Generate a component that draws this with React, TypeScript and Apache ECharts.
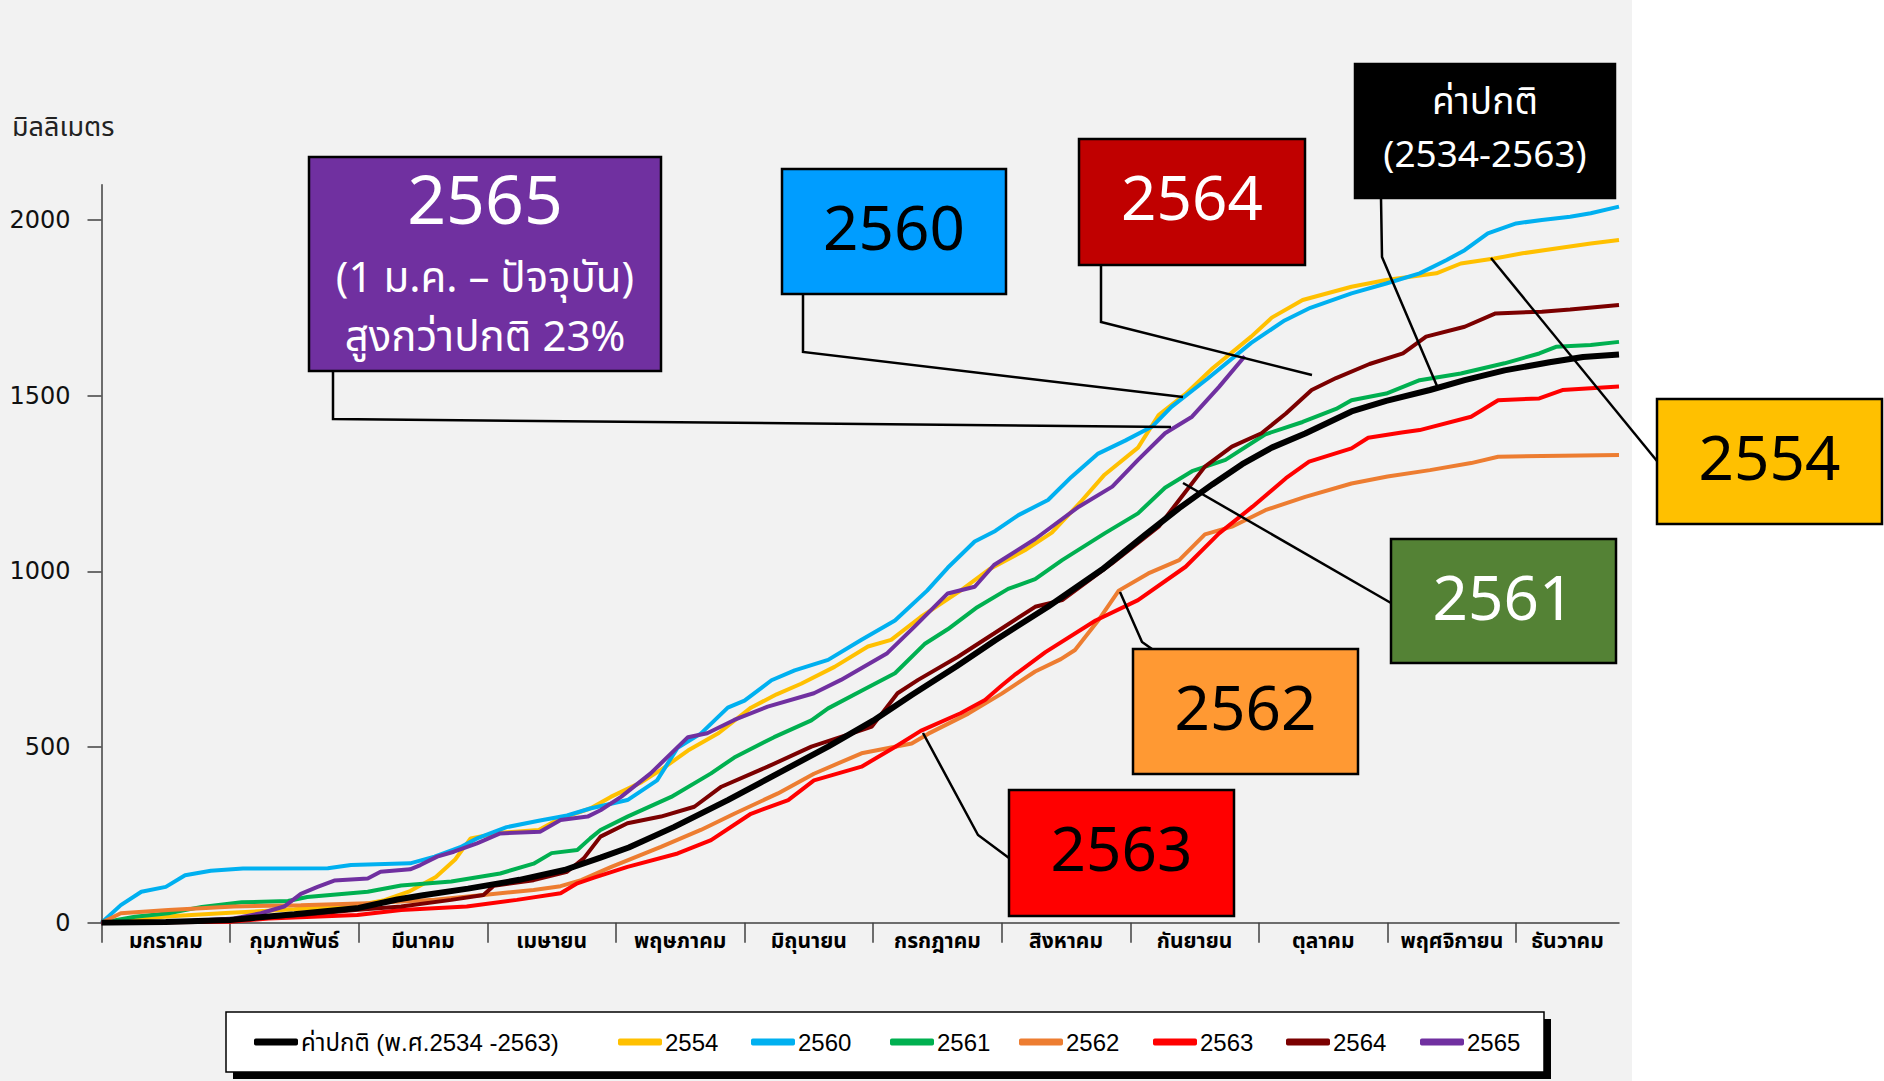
import React, { useEffect, useRef } from 'react';
import * as echarts from 'echarts';

// ---- axis content ----
const months = ['มกราคม', 'กุมภาพันธ์', 'มีนาคม', 'เมษายน', 'พฤษภาคม', 'มิถุนายน', 'กรกฎาคม', 'สิงหาคม', 'กันยายน', 'ตุลาคม', 'พฤศจิกายน', 'ธันวาคม'];
const yTicks = [0, 500, 1000, 1500, 2000];
const xEnd = 11.8; // data run ends in late December (month units)
const yMax = 2100;
const yUnit = 'มิลลิเมตร';

// ---- series values: [position in months from 1 Jan, cumulative rainfall mm] ----
const normal: [number, number][] = [[0,0],[0.5,2],[1,8],[1.5,24],[2,42],[2.3,66],[2.5,78],[2.85,97],[3.25,122],[3.6,150],[3.88,185],[4.1,214],[4.45,272],[4.87,349],[5.26,425],[5.65,501],[6.0,575],[6.3,648],[6.65,730],[6.95,804],[7.36,899],[7.78,1005],[8.12,1105],[8.38,1180],[8.64,1248],[8.87,1305],[9.1,1352],[9.36,1392],[9.72,1455],[9.99,1485],[10.33,1516],[10.6,1544],[10.91,1572],[11.26,1595],[11.52,1610],[11.8,1617]];
const y2554: [number, number][] = [[0,0],[0.3,12],[0.6,20],[1,28],[1.5,38],[2,50],[2.2,64],[2.4,90],[2.6,130],[2.75,180],[2.87,240],[3.1,256],[3.4,264],[3.55,294],[3.8,325],[3.96,358],[4.2,400],[4.35,435],[4.56,490],[4.8,540],[5.05,612],[5.25,650],[5.44,680],[5.7,728],[5.96,786],[6.14,805],[6.37,870],[6.68,945],[6.9,1005],[7.18,1060],[7.39,1110],[7.62,1200],[7.8,1275],[8.06,1352],[8.22,1445],[8.43,1505],[8.64,1578],[8.94,1668],[9.1,1722],[9.34,1772],[9.72,1810],[9.99,1829],[10.38,1848],[10.57,1876],[10.83,1890],[11.05,1905],[11.31,1919],[11.58,1933],[11.8,1943]];
const y2560: [number, number][] = [[0,0],[0.15,50],[0.31,88],[0.5,102],[0.65,135],[0.85,148],[1.1,154],[1.76,155],[1.94,164],[2.4,169],[2.59,188],[2.79,215],[2.92,240],[3.15,272],[3.41,291],[3.62,305],[3.8,325],[4.09,349],[4.32,405],[4.48,498],[4.66,538],[4.87,612],[5.0,632],[5.21,690],[5.39,718],[5.65,748],[5.91,805],[6.17,860],[6.42,945],[6.58,1010],[6.79,1085],[6.95,1115],[7.13,1160],[7.36,1203],[7.54,1268],[7.75,1335],[7.96,1372],[8.17,1412],[8.32,1468],[8.6,1548],[8.94,1650],[9.2,1714],[9.4,1750],[9.72,1791],[9.99,1819],[10.25,1848],[10.46,1886],[10.6,1914],[10.78,1962],[11.0,1990],[11.2,2000],[11.42,2009],[11.58,2019],[11.8,2038]];
const y2561: [number, number][] = [[0,0],[0.26,17],[0.52,27],[0.78,45],[1.09,58],[1.45,62],[1.6,73],[2.07,88],[2.33,106],[2.72,117],[3.1,140],[3.36,168],[3.5,198],[3.7,207],[3.8,240],[3.88,264],[4.09,302],[4.43,358],[4.74,425],[4.92,470],[5.23,528],[5.52,576],[5.65,610],[5.91,660],[6.17,710],[6.4,793],[6.58,835],[6.81,898],[7.05,950],[7.26,978],[7.47,1032],[7.8,1108],[8.06,1165],[8.27,1238],[8.48,1285],[8.74,1317],[9.05,1390],[9.34,1425],[9.6,1462],[9.72,1487],[9.99,1506],[10.25,1544],[10.57,1563],[10.91,1592],[11.18,1620],[11.31,1639],[11.58,1644],[11.8,1653]];
const y2562: [number, number][] = [[0,0],[0.15,27],[0.52,36],[1.03,46],[1.55,50],[2.07,55],[2.59,65],[2.97,79],[3.36,93],[3.57,104],[3.73,121],[3.96,158],[4.35,216],[4.66,264],[4.92,310],[5.26,368],[5.54,424],[5.91,482],[6.3,510],[6.43,538],[6.74,595],[7.0,652],[7.26,715],[7.46,750],[7.57,776],[7.75,860],[7.91,945],[8.14,994],[8.38,1032],[8.58,1105],[8.79,1127],[9.05,1174],[9.36,1212],[9.72,1250],[10.0,1270],[10.33,1288],[10.65,1308],[10.86,1326],[11.2,1328],[11.8,1331]];
const y2563: [number, number][] = [[0,0],[1.0,3],[1.3,12],[1.99,22],[2.33,36],[2.84,46],[3.23,65],[3.57,84],[3.7,112],[3.83,128],[4.09,159],[4.48,197],[4.74,235],[5.05,310],[5.34,349],[5.54,405],[5.91,444],[6.17,500],[6.37,546],[6.68,596],[6.87,634],[7.0,675],[7.1,705],[7.34,770],[7.73,860],[8.06,918],[8.43,1013],[8.69,1108],[8.95,1184],[9.21,1265],[9.39,1312],[9.72,1350],[9.85,1380],[10.11,1395],[10.25,1402],[10.65,1440],[10.86,1487],[11.18,1492],[11.36,1516],[11.8,1526]];
const y2564: [number, number][] = [[0,0],[0.78,3],[1.16,12],[1.55,22],[1.97,36],[2.33,46],[2.72,65],[2.97,79],[3.05,105],[3.36,121],[3.62,145],[3.75,183],[3.88,245],[4.09,283],[4.35,302],[4.61,330],[4.82,387],[5.18,444],[5.52,501],[5.91,548],[5.99,558],[6.19,653],[6.35,691],[6.66,757],[6.94,823],[7.26,899],[7.47,918],[7.86,1023],[8.22,1127],[8.38,1203],[8.58,1298],[8.79,1355],[9.02,1393],[9.21,1449],[9.41,1516],[9.6,1550],[9.86,1590],[10.12,1620],[10.3,1668],[10.6,1696],[10.84,1734],[11.2,1739],[11.42,1745],[11.8,1758]];
const y2565: [number, number][] = [[0,0],[0.6,3],[1.03,12],[1.24,27],[1.42,46],[1.55,82],[1.68,102],[1.81,120],[2.07,126],[2.17,145],[2.4,152],[2.48,164],[2.61,188],[2.74,202],[2.92,226],[3.1,254],[3.41,259],[3.57,292],[3.78,302],[3.88,320],[4.04,358],[4.27,425],[4.56,528],[4.71,539],[4.92,577],[5.18,615],[5.54,653],[5.75,691],[6.11,767],[6.32,842],[6.58,937],[6.79,956],[6.94,1018],[7.26,1092],[7.6,1184],[7.86,1241],[8.06,1317],[8.27,1393],[8.48,1440],[8.69,1525],[8.89,1612]];

const seriesNames = ['ค่าปกติ (พ.ศ.2534 -2563)', '2554', '2560', '2561', '2562', '2563', '2564', '2565'];
const seriesData = [normal, y2554, y2560, y2561, y2562, y2563, y2564, y2565];
const seriesColors = ['#000000', '#ffc000', '#00b0f0', '#00b050', '#ed7d31', '#ff0000', '#7b0000', '#7030a0'];

// ---- layout (pixels) ----
const legendLeft = [254, 618, 751, 890, 1019, 1153, 1286, 1420];
const THAI = "'Noto Sans Thai', 'Noto Sans Thai UI', 'Noto Sans', 'DejaVu Sans', sans-serif";

type Box = { x: number; y: number; w: number; h: number; fill: string; color: string; lines: { t: string; dy: number; size: number }[]; conn: number[][] };
const boxes: Box[] = [
  { x: 309, y: 157, w: 352, h: 214, fill: '#7030a0', color: '#ffffff', lines: [{ t: '2565', dy: 46, size: 68 }, { t: '(1 ม.ค. – ปัจจุบัน)', dy: 122, size: 42 }, { t: 'สูงกว่าปกติ 23%', dy: 181, size: 42 }], conn: [[333, 371], [333, 419], [1171, 427]] },
  { x: 782, y: 169, w: 224, h: 125, fill: '#009dff', color: '#000000', lines: [{ t: '2560', dy: 62, size: 62 }], conn: [[803, 294], [803, 352], [1183, 397]] },
  { x: 1079, y: 139, w: 226, h: 126, fill: '#c00000', color: '#ffffff', lines: [{ t: '2564', dy: 62, size: 62 }], conn: [[1101, 265], [1101, 322], [1312, 375]] },
  { x: 1355, y: 64, w: 260, h: 134, fill: '#000000', color: '#ffffff', lines: [{ t: 'ค่าปกติ', dy: 39, size: 37 }, { t: '(2534-2563)', dy: 92, size: 37 }], conn: [[1381, 198], [1382, 257], [1437, 386]] },
  { x: 1657, y: 399, w: 225, h: 125, fill: '#ffc000', color: '#000000', lines: [{ t: '2554', dy: 62, size: 62 }], conn: [[1657, 461], [1491, 258]] },
  { x: 1391, y: 539, w: 225, h: 124, fill: '#548235', color: '#ffffff', lines: [{ t: '2561', dy: 62, size: 62 }], conn: [[1391, 603], [1183, 483]] },
  { x: 1133, y: 649, w: 225, h: 125, fill: '#ff9933', color: '#000000', lines: [{ t: '2562', dy: 62, size: 62 }], conn: [[1152, 649], [1142, 642], [1120, 592]] },
  { x: 1009, y: 790, w: 225, h: 126, fill: '#ff0000', color: '#000000', lines: [{ t: '2563', dy: 62, size: 62 }], conn: [[1009, 858], [978, 835], [923, 733]] },
];

export default function App() {
  const ref = useRef<HTMLDivElement>(null);
  useEffect(() => {
    document.body.style.margin = '0';
    if (!ref.current) return;
    const chart = echarts.init(ref.current, undefined, { renderer: 'svg' });

    const labelPos = months.map((_, i) => (i < months.length - 1 ? i + 0.5 : (i + xEnd) / 2));
    const graphics: any[] = [
      { type: 'rect', z: 0, silent: true, shape: { x: 1632, y: 0, width: 252, height: 1081 }, style: { fill: '#ffffff' } },
      { type: 'rect', z: 1, silent: true, shape: { x: 233, y: 1019, width: 1318, height: 60 }, style: { fill: '#000000' } },
      { type: 'rect', z: 1, silent: true, shape: { x: 226, y: 1012, width: 1318, height: 60 }, style: { fill: '#ffffff', stroke: '#000000', lineWidth: 1.5 } },
      { type: 'text', z: 5, silent: true, style: { text: yUnit, x: 12, y: 127, fill: '#222222', font: `27px ${THAI}`, align: 'left', verticalAlign: 'middle', textAlign: 'left', textVerticalAlign: 'middle' } },
    ];
    boxes.forEach((b) => {
      graphics.push({ type: 'polyline', z: 90, silent: true, shape: { points: b.conn }, style: { stroke: '#000000', lineWidth: 2.5, fill: 'none' } });
      graphics.push({ type: 'rect', z: 100, silent: true, shape: { x: b.x, y: b.y, width: b.w, height: b.h }, style: { fill: b.fill, stroke: '#000000', lineWidth: 2.5 } });
      b.lines.forEach((l) => {
        graphics.push({ type: 'text', z: 101, silent: true, style: { text: l.t, x: b.x + b.w / 2, y: b.y + l.dy, fill: b.color, font: `${l.size}px ${THAI}`, align: 'center', verticalAlign: 'middle', textAlign: 'center', textVerticalAlign: 'middle' } });
      });
    });

    const axisColor = '#404040';
    chart.setOption({
      animation: false,
      backgroundColor: '#f2f2f2',
      grid: { left: 101.5, right: 265, top: 184.8, bottom: 158.3 },
      xAxis: {
        type: 'value', min: 0, max: xEnd,
        axisLine: { show: true, lineStyle: { color: axisColor, width: 1.5 } },
        axisTick: { show: true, customValues: months.map((_, i) => i), length: 20, lineStyle: { color: axisColor, width: 1.5 } },
        axisLabel: {
          customValues: labelPos, margin: 8, color: '#000000', fontSize: 21, fontWeight: 'bold', fontFamily: THAI,
          formatter: (v: number) => months[Math.min(months.length - 1, Math.floor(v))],
        },
        splitLine: { show: false },
      },
      yAxis: {
        type: 'value', min: 0, max: yMax,
        axisLine: { show: true, lineStyle: { color: axisColor, width: 1.5 } },
        axisTick: { show: true, customValues: yTicks, length: 14, lineStyle: { color: axisColor, width: 1.5 } },
        axisLabel: { customValues: yTicks, margin: 31, color: '#111111', fontSize: 24, fontFamily: 'DejaVu Sans', formatter: (v: number) => String(v) },
        splitLine: { show: false },
      },
      legend: seriesNames.map((n, i) => ({
        data: [n], left: legendLeft[i], top: 1029, padding: 0, itemGap: 0,
        icon: 'roundRect', itemWidth: 44, itemHeight: 7,
        textStyle: { color: '#000000', fontSize: 24, fontFamily: "'Liberation Sans', " + THAI, lineHeight: 26, padding: [0, 0, 0, -2] },
        selectedMode: false,
      })),
      series: seriesNames.map((n, i) => ({
        name: n, type: 'line', data: seriesData[i], showSymbol: false, symbol: 'none',
        z: i === 0 ? 3 : 2,
        color: seriesColors[i],
        itemStyle: { color: seriesColors[i] },
        lineStyle: { color: seriesColors[i], width: i === 0 ? 6 : 4 },
        emphasis: { disabled: true },
      })),
      graphic: { elements: graphics },
    });
    return () => chart.dispose();
  }, []);
  return <div ref={ref} style={{ width: 1884, height: 1081 }} />;
}
